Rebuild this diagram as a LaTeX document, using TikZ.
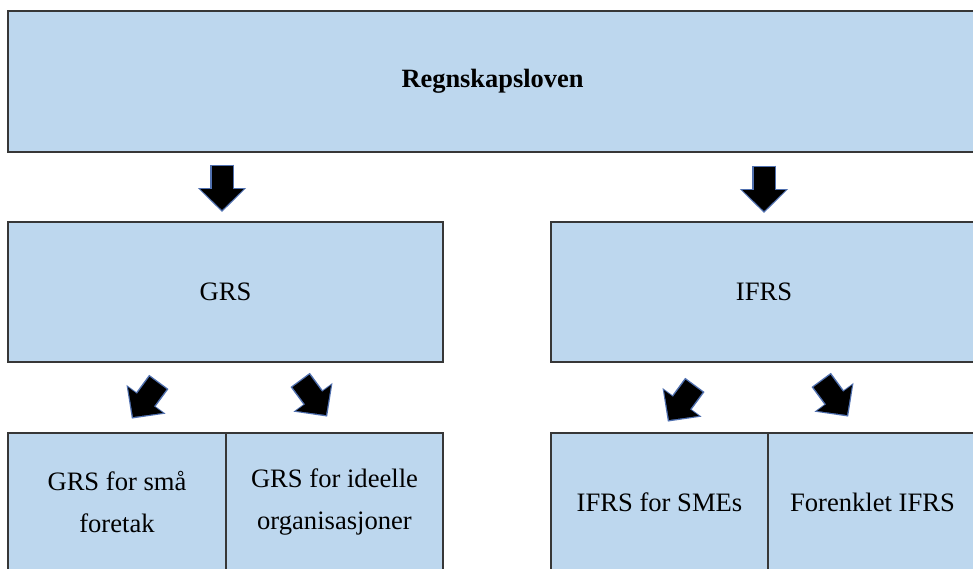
\documentclass[tikz,border=0pt]{standalone}
\usepackage{fontspec}
\setmainfont{Liberation Serif}
\usetikzlibrary{arrows.meta}
\definecolor{boxblue}{RGB}{189,215,238}
\definecolor{boxline}{RGB}{55,55,55}
\definecolor{glow}{RGB}{80,112,175}
\tikzset{
  box/.style={draw=boxline, line width=0.9pt, fill=boxblue, rectangle, inner sep=2pt, font=\fontsize{13.3}{21}\selectfont},
  lawbox/.style={box, font=\fontsize{13.2}{15}\selectfont\bfseries},
  cell/.style={box, align=center, minimum height=69pt},
  blockarrow/.style={line width=10.5pt, -{Triangle[width=21pt,length=10.5pt]}, black,
    preaction={draw=glow, line width=12pt, -{Triangle[width=23.5pt,length=12pt]}, shorten >=-1pt, shorten <=-0.7pt}},
}
\begin{document}
\begin{tikzpicture}[x=0.5pt, y=-0.5pt]
  \useasboundingbox (0,0) rectangle (973,568);
  \clip (0,0) rectangle (973,568);
  \fill[white] (0,0) rectangle (973,568);

  % top level
  \node[lawbox, minimum width=484.5pt, minimum height=70.5pt] (law) at (492.5,81.5) {Regnskapsloven};

  % second level
  \node[box, minimum width=217.5pt, minimum height=70pt] (grs) at (225.5,292) {GRS};
  \node[box, minimum width=213pt, minimum height=70pt] (ifrs) at (764,292) {IFRS};

  % third level
  \node[cell, minimum width=109pt] (small) at (117,502) {GRS for små\\foretak};
  \node[cell, minimum width=108.5pt] (ideal) at (334.5,502) {GRS for ideelle\\organisasjoner};
  \node[cell, minimum width=108.5pt] (smes) at (659.5,502) {IFRS for SMEs};
  \node[cell, minimum width=104.5pt] (simple) at (872.5,502) {Forenklet IFRS};

  % arrow ends
  \coordinate (grsA) at (222,166);   \coordinate (grsB) at (222,210);
  \coordinate (ifrsA) at (764,167);  \coordinate (ifrsB) at (764,211);
  \coordinate (smallA) at (158,383); \coordinate (smallB) at (133,417);
  \coordinate (idealA) at (301,381); \coordinate (idealB) at (326,415);
  \coordinate (smesA) at (694,386);  \coordinate (smesB) at (669,420);
  \coordinate (simpleA) at (822,381); \coordinate (simpleB) at (847,415);

  \draw[blockarrow] (grsA) -- (grsB);
  \draw[blockarrow] (ifrsA) -- (ifrsB);
  \draw[blockarrow] (smallA) -- (smallB);
  \draw[blockarrow] (idealA) -- (idealB);
  \draw[blockarrow] (smesA) -- (smesB);
  \draw[blockarrow] (simpleA) -- (simpleB);
\end{tikzpicture}
\end{document}
